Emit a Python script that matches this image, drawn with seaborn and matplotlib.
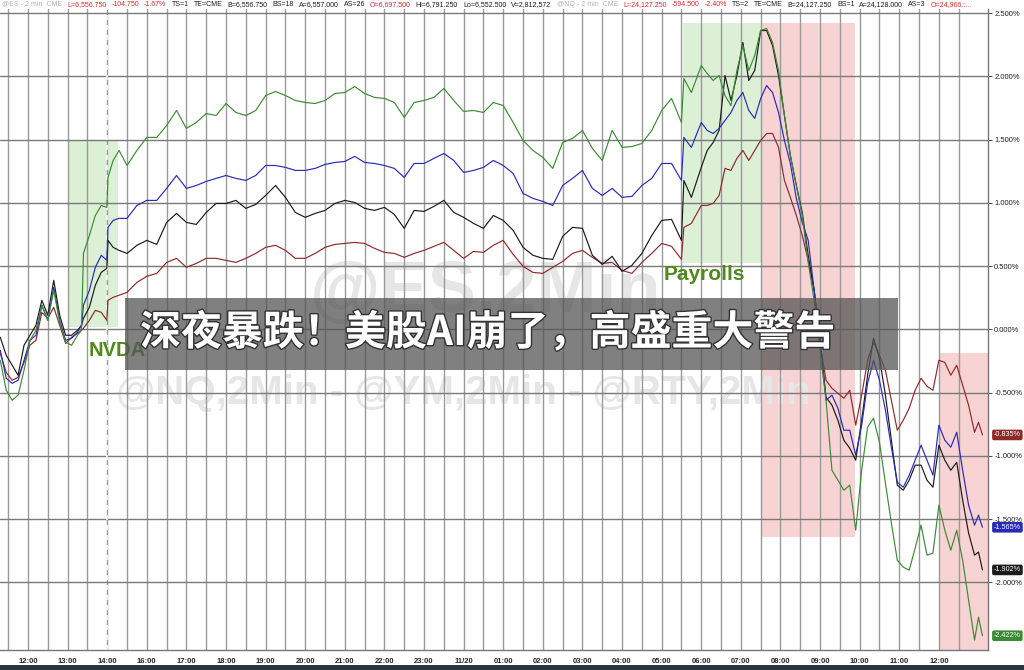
import numpy as np
import pandas as pd
import matplotlib
matplotlib.use("Agg")
import matplotlib.pyplot as plt
import matplotlib.patheffects as pe
from matplotlib.patches import Rectangle
from matplotlib.transforms import blended_transform_factory
import seaborn as sns

sns.set_style("white")
plt.rcParams['font.family'] = ['Liberation Sans', 'DejaVu Sans']

# time axis: one slot per hour label
time_labels = ["12:00", "13:00", "14:00", "16:00", "17:00", "18:00", "19:00", "20:00",
               "21:00", "22:00", "23:00", "11/20", "01:00", "02:00", "03:00", "04:00",
               "05:00", "06:00", "07:00", "08:00", "09:00", "10:00", "11:00", "12:00"]

pos = [-0.70, -0.55, -0.40, -0.25, -0.10, 0.05, 0.20, 0.35, 0.50, 0.65,
       0.80, 0.95, 1.10, 1.25, 1.35, 1.40, 1.55, 1.70, 1.85, 1.99,
       2.02, 2.15, 2.30, 2.50, 2.75, 3.00, 3.25, 3.50, 3.75, 4.00,
       4.25, 4.50, 4.75, 5.00, 5.25, 5.50, 5.75, 6.00, 6.25, 6.50,
       6.75, 7.00, 7.25, 7.50, 7.75, 8.00, 8.25, 8.50, 8.75, 9.00,
       9.25, 9.50, 9.75, 10.00, 10.25, 10.50, 10.75, 11.00, 11.25, 11.50,
       11.75, 12.00, 12.25, 12.50, 12.75, 13.00, 13.25, 13.50, 13.75, 14.00,
       14.25, 14.50, 14.75, 15.00, 15.25, 15.50, 15.75, 16.00, 16.25, 16.50,
       16.56, 16.75, 17.00, 17.15, 17.30, 17.45, 17.60, 17.75, 17.90, 18.05,
       18.20, 18.35, 18.50, 18.65, 18.80, 18.95, 19.10, 19.25, 19.40, 19.55,
       19.70, 19.85, 20.00, 20.15, 20.30, 20.45, 20.60, 20.75, 20.90, 21.05,
       21.20, 21.35, 21.50, 21.65, 21.80, 21.95, 22.10, 22.25, 22.40, 22.55,
       22.70, 22.85, 23.00, 23.15, 23.30, 23.45, 23.60, 23.75, 23.90, 24.00, 24.10]

# % change
es_black = [-0.063, -0.205, -0.284, -0.363, -0.126, -0.047, 0.032, 0.229, 0.111, 0.387,
            0.111, -0.047, -0.047, -0.008, 0.032, 0.087, 0.174, 0.348, 0.450, 0.482,
            0.703, 0.648, 0.624, 0.600, 0.664, 0.703, 0.671, 0.845, 0.916, 0.845,
            0.829, 0.924, 0.995, 0.995, 1.019, 0.956, 0.987, 1.058, 1.137, 1.043,
            0.924, 0.885, 0.916, 0.940, 0.995, 1.019, 1.003, 0.956, 0.940, 0.964,
            0.908, 0.798, 0.940, 0.932, 0.972, 1.019, 0.924, 0.885, 0.837, 0.798,
            0.900, 0.861, 0.782, 0.648, 0.585, 0.561, 0.553, 0.735, 0.806, 0.798,
            0.585, 0.513, 0.577, 0.458, 0.506, 0.600, 0.742, 0.861, 0.869, 0.703,
            1.177, 1.043, 1.280, 1.414, 1.477, 1.572, 2.006, 1.809, 2.006, 2.267,
            1.967, 2.046, 2.362, 2.362, 2.243, 2.006, 1.690, 1.374, 1.137, 0.924,
            0.585, 0.308, -0.087, -0.537, -0.600, -0.719, -0.877, -0.940, -1.035, -0.719,
            -0.363, -0.071, -0.229, -0.521, -0.877, -1.232, -1.272, -1.193, -1.074, -1.074,
            -1.193, -1.248, -0.916, -1.035, -1.114, -1.051, -1.351, -1.611, -1.785, -1.761, -1.902]

nq_blue = [-0.166, -0.387, -0.427, -0.403, -0.245, -0.087, -0.047, 0.190, 0.071, 0.332,
           0.071, -0.087, -0.071, -0.024, 0.032, 0.190, 0.308, 0.490, 0.585, 0.545,
           0.806, 0.861, 0.877, 0.877, 0.979, 1.019, 1.019, 1.114, 1.216, 1.114,
           1.137, 1.169, 1.193, 1.216, 1.193, 1.177, 1.216, 1.295, 1.295, 1.280,
           1.256, 1.256, 1.272, 1.303, 1.319, 1.327, 1.367, 1.319, 1.311, 1.295,
           1.272, 1.201, 1.311, 1.311, 1.351, 1.390, 1.335, 1.240, 1.256, 1.280,
           1.335, 1.295, 1.232, 1.074, 1.035, 1.011, 0.979, 1.137, 1.193, 1.256,
           1.114, 1.058, 1.114, 1.043, 1.051, 1.137, 1.193, 1.311, 1.311, 1.177,
           1.517, 1.438, 1.635, 1.572, 1.548, 1.588, 1.651, 1.714, 1.809, 1.872,
           1.730, 1.667, 1.825, 1.927, 1.872, 1.714, 1.493, 1.311, 1.035, 0.845,
           0.703, 0.308, -0.087, -0.561, -0.521, -0.624, -0.798, -0.798, -0.995, -0.758,
           -0.427, -0.245, -0.403, -0.640, -0.932, -1.209, -1.248, -1.153, -1.035, -0.916,
           -1.035, -1.153, -0.758, -0.877, -0.932, -0.814, -1.114, -1.390, -1.548, -1.469, -1.565]

ym_red = [-0.190, -0.340, -0.403, -0.379, -0.261, -0.126, -0.087, 0.134, 0.087, 0.174,
          0.032, -0.111, -0.063, -0.032, -0.008, 0.008, 0.071, 0.150, 0.134, 0.071,
          0.229, 0.253, 0.269, 0.292, 0.371, 0.419, 0.442, 0.529, 0.561, 0.490,
          0.521, 0.561, 0.561, 0.545, 0.529, 0.561, 0.600, 0.648, 0.664, 0.624,
          0.561, 0.561, 0.600, 0.648, 0.671, 0.679, 0.687, 0.679, 0.640, 0.608,
          0.600, 0.569, 0.600, 0.624, 0.656, 0.687, 0.624, 0.561, 0.616, 0.608,
          0.664, 0.703, 0.592, 0.498, 0.450, 0.442, 0.490, 0.537, 0.600, 0.624,
          0.569, 0.521, 0.529, 0.466, 0.442, 0.529, 0.600, 0.679, 0.656, 0.553,
          0.806, 0.837, 0.979, 0.979, 0.995, 1.058, 1.272, 1.256, 1.351, 1.414,
          1.335, 1.414, 1.493, 1.548, 1.548, 1.438, 1.177, 1.043, 0.900, 0.742,
          0.545, 0.308, -0.111, -0.403, -0.466, -0.506, -0.545, -0.482, -0.758, -0.521,
          -0.245, -0.103, -0.205, -0.324, -0.561, -0.798, -0.719, -0.624, -0.482, -0.387,
          -0.450, -0.482, -0.245, -0.261, -0.363, -0.284, -0.442, -0.600, -0.814, -0.735, -0.835]

rty_green = [-0.245, -0.482, -0.561, -0.521, -0.324, -0.087, -0.008, 0.190, 0.071, 0.308,
             0.055, -0.103, -0.126, -0.047, -0.008, 0.600, 0.742, 0.900, 0.979, 0.964,
             1.201, 1.335, 1.414, 1.295, 1.414, 1.517, 1.517, 1.611, 1.730, 1.588,
             1.635, 1.706, 1.690, 1.785, 1.714, 1.690, 1.730, 1.848, 1.880, 1.848,
             1.809, 1.793, 1.785, 1.809, 1.864, 1.872, 1.919, 1.864, 1.833, 1.825,
             1.793, 1.675, 1.793, 1.809, 1.833, 1.904, 1.809, 1.722, 1.730, 1.714,
             1.793, 1.769, 1.635, 1.493, 1.414, 1.359, 1.272, 1.477, 1.509, 1.572,
             1.430, 1.335, 1.572, 1.438, 1.445, 1.469, 1.572, 1.730, 1.825, 1.635,
             1.983, 1.872, 2.085, 2.022, 1.967, 2.006, 1.848, 1.769, 2.046, 2.243,
             2.046, 2.164, 2.362, 2.378, 2.267, 2.046, 1.690, 1.374, 1.137, 0.900,
             0.529, 0.229, -0.166, -0.561, -1.114, -1.193, -1.272, -1.232, -1.588, -1.114,
             -0.774, -0.703, -0.893, -1.216, -1.532, -1.825, -1.880, -1.904, -1.730, -1.548,
             -1.785, -1.769, -1.390, -1.588, -1.746, -1.588, -1.825, -2.141, -2.457, -2.275, -2.422]

colors = {"RTY": "#3d8a35", "ES": "#1a1a1a", "NQ": "#2a2ab8", "YM": "#8e2a2a"}
last_tags = {"YM": "-0.835%", "NQ": "-1.565%", "ES": "-1.902%", "RTY": "-2.422%"}

df = pd.concat([
    pd.DataFrame({"pos": pos, "pct": ym_red, "sym": "YM"}),
    pd.DataFrame({"pos": pos, "pct": es_black, "sym": "ES"}),
    pd.DataFrame({"pos": pos, "pct": nq_blue, "sym": "NQ"}),
    pd.DataFrame({"pos": pos, "pct": rty_green, "sym": "RTY"}),
], ignore_index=True)

fig = plt.figure(figsize=(10.24, 6.7), dpi=100)
ax = fig.add_axes([0, 20 / 670, 988 / 1024, 641 / 670])

# event boxes
ax.add_patch(Rectangle((1.01, 0.016), 1.26, 1.469, fc="#dcf0d6", ec="none", zorder=0.2))
ax.add_patch(Rectangle((16.54, 0.521), 2.0, 1.904, fc="#dcf0d6", ec="none", zorder=0.2))
ax.add_patch(Rectangle((18.54, -1.643), 2.34, 4.068, fc="#f8d3d3", ec="none", zorder=0.2))
ax.add_patch(Rectangle((23.03, -2.6), 1.3, 2.41, fc="#f8d3d3", ec="none", zorder=0.2))

# watermarks
ax.text(11.55, 0.29, "@ES,2Min", fontsize=52, fontweight="bold", color="#e6e6e6",
        ha="center", va="center", zorder=0.3)
ax.text(11.0, -0.50, "@NQ,2Min - @YM,2Min - @RTY,2Min", fontsize=29, fontweight="bold",
        color="#e6e6e6", ha="center", va="center", zorder=0.3)

sns.lineplot(data=df, x="pos", y="pct", hue="sym", palette=colors, sort=False,
             estimator=None, legend=False, lw=0.85, ax=ax, zorder=3)

ax.set_xlim(-0.707, 24.24)
ax.set_ylim(-2.535, 2.532)
ax.set_xlabel("")
ax.set_ylabel("")

ax.set_xticks(range(len(time_labels)))
ax.set_xticklabels(time_labels, fontsize=5.5, fontweight="bold")
ax.set_xticks(np.arange(-0.5, 24.5, 1.0), minor=True)
ax.tick_params(axis="x", which="both", length=4, pad=1.5, color="#555555")

yt = np.arange(-2.0, 2.51, 0.5)
ax.set_yticks(yt)
ax.set_yticklabels([f"{v:.3f}%" for v in yt], fontsize=5.5, color="#222222")
ax.yaxis.tick_right()
ax.tick_params(axis="y", length=3, pad=1.5, color="#555555")

ax.grid(True, which="both", axis="x", color="#9a9a9a", lw=1.0)
ax.grid(True, which="major", axis="y", color="#7a7a7a", lw=1.0)
ax.set_axisbelow(True)
ax.axvline(2, color="white", lw=1.2, ls=(0, (3, 3)), zorder=0.6)

for s in ["left", "top"]:
    ax.spines[s].set_visible(False)
for s in ["right", "bottom"]:
    ax.spines[s].set_color("#777777")
    ax.spines[s].set_linewidth(1.0)

ax.text(1.52, -0.17, "NVDA", fontsize=14.5, fontweight="bold", color="#4f8a1c",
        ha="left", va="center", zorder=4)
ax.text(16.04, 0.43, "Payrolls", fontsize=15, fontweight="bold", color="#4f8a1c",
        ha="left", va="center", zorder=4)

# last value tags
tr = blended_transform_factory(ax.transAxes, ax.transData)
for sym, series in [("YM", ym_red), ("NQ", nq_blue), ("ES", es_black), ("RTY", rty_green)]:
    ax.text(1.006, series[-1], last_tags[sym], transform=tr, fontsize=5.2, color="white",
            ha="left", va="center", clip_on=False, zorder=6,
            bbox=dict(boxstyle="round,pad=0.25", fc=colors[sym], ec="none"))

# quote header, chained left to right
red, blk, gry = "#d42a2a", "#1a1a1a", "#b4b4b4"
header = [("@ES - 2 min  CME", gry), ("L=6,556.750", red), ("-104.750", red), ("-1.67%", red),
          ("TS=1", blk), ("TE=CME", blk), ("B=6,556.750", blk), ("BS=18", blk),
          ("A=6,557.000", blk), ("AS=26", blk), ("O=6,697.500", red),
          ("Hi=6,791.250", blk), ("Lo=6,552.500", blk), ("V=2,812,572", blk),
          ("@NQ - 2 min  CME", gry), ("L=24,127.250", red), ("-594.500", red), ("-2.40%", red),
          ("TS=2", blk), ("TE=CME", blk), ("B=24,127.250", blk), ("BS=1", blk),
          ("A=24,128.000", blk), ("AS=3", blk), ("O=24,966.:...", red)]
hfs = 5.0
prev = fig.text(0.002, 0.9885, header[0][0], fontsize=hfs, color=header[0][1], va="bottom")
for txt, col in header[1:]:
    prev = ax.annotate(txt, xy=(1, 0), xycoords=prev, xytext=(3.6, 0),
                       textcoords="offset points", fontsize=hfs, color=col,
                       va="bottom", ha="left", annotation_clip=False)

# headline banner
fig.add_artist(Rectangle((125 / 1024, 1 - 370 / 670), 773 / 1024, 72 / 670,
                         transform=fig.transFigure, fc="#555555", alpha=0.75, ec="none", zorder=5))
fig.text(140 / 1024, 1 - 333 / 670, "深夜暴跌！美股AI崩了，高盛重大警告", fontsize=29.5,
         fontweight="bold", color="white", ha="left", va="center", zorder=6,
         family=["Noto Sans CJK SC", "DejaVu Sans"],
         path_effects=[pe.withStroke(linewidth=2, foreground="#333333")])

fig.add_artist(Rectangle((0, 0), 1, 5 / 670, transform=fig.transFigure,
                         fc="#2c3442", ec="none", zorder=5))

fig.savefig("out.png", dpi=100)
